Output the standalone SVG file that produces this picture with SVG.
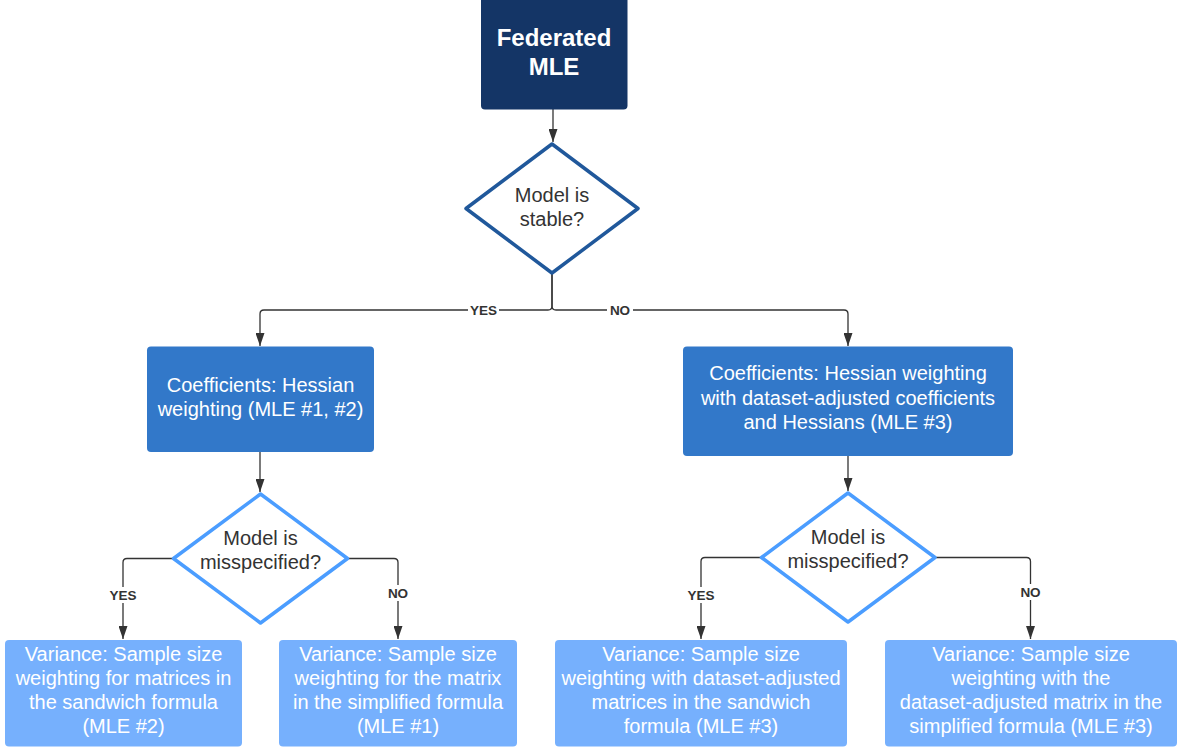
<svg xmlns="http://www.w3.org/2000/svg" width="1178" height="749" viewBox="0 0 1178 749">
  <style>
    .t { font-family: "Liberation Sans", Arial, sans-serif; font-size: 20px; text-anchor: middle; }
    .w { fill: #ffffff; }
    .d { fill: #333333; }
    .lbl { font-family: "Liberation Sans", Arial, sans-serif; font-size: 13.5px; font-weight: bold; fill: #333333; text-anchor: middle; }
    .conn { fill: none; stroke: #333333; stroke-width: 1.3; }
    .mid { fill: #3278c9; }
    .leaf { fill: #76b0fd; }
    .dia1 { fill: #ffffff; stroke: #20589b; stroke-width: 3.5; stroke-linejoin: round; }
    .dia2 { fill: #ffffff; stroke: #4b9dff; stroke-width: 3.5; stroke-linejoin: round; }
  </style>
  <defs>
    <marker id="arr" viewBox="0 0 13 9" refX="13" refY="4.5" markerWidth="13" markerHeight="9" markerUnits="userSpaceOnUse" orient="auto">
      <path d="M0,0 L13,4.5 L0,9 z" fill="#333333"/>
    </marker>
  </defs>
  <rect width="1178" height="749" fill="#ffffff"/>

  <g id="connectors">
    <path class="conn" d="M553,109 V142" marker-end="url(#arr)"/>
    <path class="conn" d="M552,273 V306 Q552,310 548,310 H264 Q260,310 260,314 V346" marker-end="url(#arr)"/>
    <path class="conn" d="M552,273 V306 Q552,310 556,310 H844 Q848,310 848,314 V346" marker-end="url(#arr)"/>
    <path class="conn" d="M260,452 V492" marker-end="url(#arr)"/>
    <path class="conn" d="M848,456 V491" marker-end="url(#arr)"/>
    <path class="conn" d="M173,558.5 H127 Q123,558.5 123,562.5 V639" marker-end="url(#arr)"/>
    <path class="conn" d="M347.5,558.5 H394 Q398,558.5 398,562.5 V639" marker-end="url(#arr)"/>
    <path class="conn" d="M761.5,557.5 H705 Q701,557.5 701,561.5 V639" marker-end="url(#arr)"/>
    <path class="conn" d="M935,557.5 H1026.5 Q1030.5,557.5 1030.5,561.5 V639" marker-end="url(#arr)"/>
    <rect x="468" y="302" width="31" height="16" fill="#ffffff"/>
    <text class="lbl" x="483.5" y="314.5">YES</text>
    <rect x="607" y="302" width="26" height="16" fill="#ffffff"/>
    <text class="lbl" x="620" y="314.5">NO</text>
    <rect x="107" y="587" width="32" height="16" fill="#ffffff"/>
    <text class="lbl" x="123" y="599.5">YES</text>
    <rect x="385" y="585" width="26" height="16" fill="#ffffff"/>
    <text class="lbl" x="398" y="597.5">NO</text>
    <rect x="685" y="587" width="32" height="16" fill="#ffffff"/>
    <text class="lbl" x="701" y="599.5">YES</text>
    <rect x="1017.5" y="584" width="26" height="16" fill="#ffffff"/>
    <text class="lbl" x="1030.5" y="596.5">NO</text>
  </g>

  <g id="node-federated">
    <rect x="481" y="-4" width="146.5" height="113.5" rx="4" fill="#143566"/>
    <text class="t w" x="554" y="46" style="font-size:24px;font-weight:bold">Federated</text>
    <text class="t w" x="554" y="75.3" style="font-size:24px;font-weight:bold">MLE</text>
  </g>

  <g id="node-stable">
    <polygon class="dia1" points="552,144 638,208.5 552,273 466,208.5"/>
    <text class="t d" x="552" y="202">Model is</text>
    <text class="t d" x="552" y="226">stable?</text>
  </g>

  <g id="node-coef-left">
    <rect class="mid" x="147" y="346.5" width="227" height="105.5" rx="4"/>
    <text class="t w" x="260.5" y="392">Coefficients: Hessian</text>
    <text class="t w" x="260.5" y="415.5">weighting (MLE #1, #2)</text>
  </g>

  <g id="node-coef-right">
    <rect class="mid" x="683" y="346.5" width="330" height="109.5" rx="4"/>
    <text class="t w" x="848" y="380">Coefficients: Hessian weighting</text>
    <text class="t w" x="848" y="404.5">with dataset-adjusted coefficients</text>
    <text class="t w" x="848" y="429">and Hessians (MLE #3)</text>
  </g>

  <g id="node-misspec-left">
    <polygon class="dia2" points="260.5,494 347.5,558.5 260.5,623 173.5,558.5"/>
    <text class="t d" x="260.5" y="544.5">Model is</text>
    <text class="t d" x="260.5" y="568.5">misspecified?</text>
  </g>

  <g id="node-misspec-right">
    <polygon class="dia2" points="848,493 935,557.5 848,622 761.5,557.5"/>
    <text class="t d" x="848" y="543.5">Model is</text>
    <text class="t d" x="848" y="567.5">misspecified?</text>
  </g>

  <g id="node-var-a">
    <rect class="leaf" x="5" y="640" width="237" height="106.5" rx="4"/>
    <text class="t w" x="123.5" y="660.5">Variance: Sample size</text>
    <text class="t w" x="123.5" y="684.8">weighting for matrices in</text>
    <text class="t w" x="123.5" y="709.1">the sandwich formula</text>
    <text class="t w" x="123.5" y="733.4">(MLE #2)</text>
  </g>

  <g id="node-var-b">
    <rect class="leaf" x="279" y="640" width="238" height="106.5" rx="4"/>
    <text class="t w" x="398" y="660.5">Variance: Sample size</text>
    <text class="t w" x="398" y="684.8">weighting for the matrix</text>
    <text class="t w" x="398" y="709.1">in the simplified formula</text>
    <text class="t w" x="398" y="733.4">(MLE #1)</text>
  </g>

  <g id="node-var-c">
    <rect class="leaf" x="555" y="640" width="292" height="106.5" rx="4"/>
    <text class="t w" x="701" y="660.5">Variance: Sample size</text>
    <text class="t w" x="701" y="684.8">weighting with dataset-adjusted</text>
    <text class="t w" x="701" y="709.1">matrices in the sandwich</text>
    <text class="t w" x="701" y="733.4">formula (MLE #3)</text>
  </g>

  <g id="node-var-d">
    <rect class="leaf" x="885" y="640" width="292" height="106.5" rx="4"/>
    <text class="t w" x="1031" y="660.5">Variance: Sample size</text>
    <text class="t w" x="1031" y="684.8">weighting with the</text>
    <text class="t w" x="1031" y="709.1">dataset-adjusted matrix in the</text>
    <text class="t w" x="1031" y="733.4">simplified formula (MLE #3)</text>
  </g>
</svg>
